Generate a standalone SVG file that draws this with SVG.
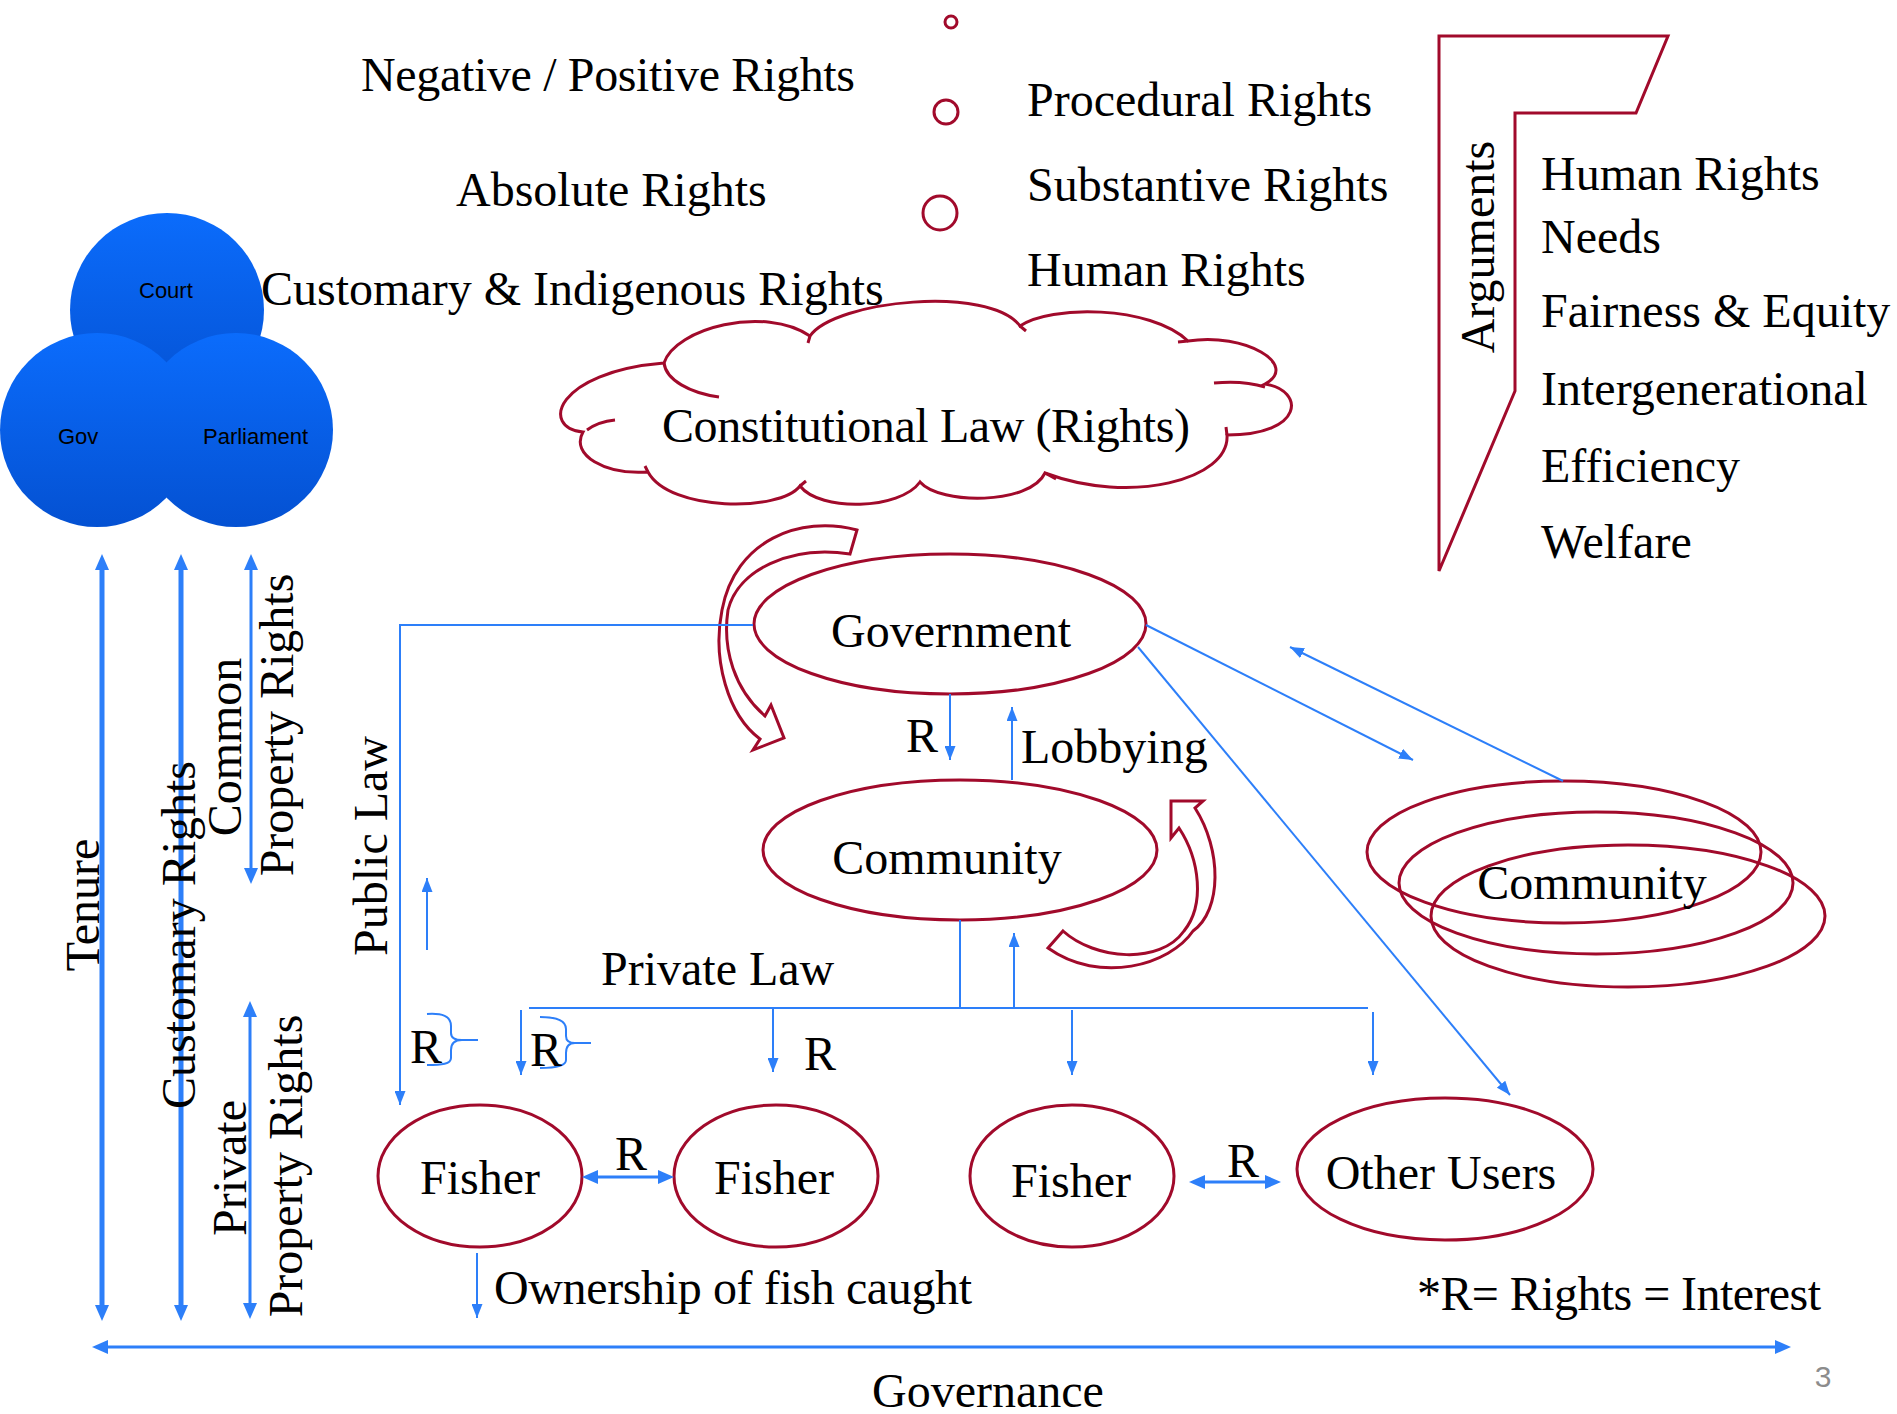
<svg xmlns="http://www.w3.org/2000/svg" width="1897" height="1414" viewBox="0 0 1897 1414">
<style>
.t{font-family:"Liberation Serif","Times New Roman",serif;font-size:48px;fill:#000}
.s{font-family:"Liberation Sans",Arial,sans-serif;font-size:22px;fill:#000}
.red{fill:none;stroke:#a10a2b;stroke-width:3}
.bl{fill:none;stroke:#2d7ff9;stroke-width:2}
.bm{fill:none;stroke:#2d7ff9;stroke-width:3}
.bt{fill:none;stroke:#2d7ff9;stroke-width:5}
</style>
<defs>
<linearGradient id="vg" x1="0" y1="0" x2="0" y2="1">
<stop offset="0" stop-color="#0b6cfc"/>
<stop offset="1" stop-color="#0451d2"/>
</linearGradient>
<marker id="a" viewBox="0 0 14 11" markerWidth="14" markerHeight="11" refX="14" refY="5.5" markerUnits="userSpaceOnUse" orient="auto">
<path d="M0,0 L14,5.5 L0,11 Z" fill="#2d7ff9"/>
</marker>
<marker id="b" viewBox="0 0 16 14" markerWidth="16" markerHeight="14" refX="3" refY="7" markerUnits="userSpaceOnUse" orient="auto">
<path d="M0,0 L16,7 L0,14 Z" fill="#2d7ff9"/>
</marker>
<marker id="bs" viewBox="0 0 16 14" markerWidth="16" markerHeight="14" refX="3" refY="7" markerUnits="userSpaceOnUse" orient="auto-start-reverse">
<path d="M0,0 L16,7 L0,14 Z" fill="#2d7ff9"/>
</marker>
</defs>
<rect width="1897" height="1414" fill="#fff"/>

<g id="venn">
<circle cx="167" cy="310" r="97" fill="url(#vg)"/>
<circle cx="97" cy="430" r="97" fill="url(#vg)"/>
<circle cx="236" cy="430" r="97" fill="url(#vg)"/>
<text class="s" x="139" y="298">Court</text>
<text class="s" x="58" y="444">Gov</text>
<text class="s" x="203" y="444">Parliament</text>
</g>

<g id="rights-list">
<text class="t" x="361" y="91" textLength="494" lengthAdjust="spacing">Negative / Positive Rights</text>
<text class="t" x="456" y="206">Absolute Rights</text>
<text class="t" x="261" y="305">Customary &amp; Indigenous Rights</text>
<circle class="red" cx="951" cy="22" r="6" stroke-width="2.5"/>
<circle class="red" cx="946" cy="112" r="12" stroke-width="2.5"/>
<circle class="red" cx="940" cy="213" r="17" stroke-width="2.5"/>
<text class="t" x="1027" y="116">Procedural Rights</text>
<text class="t" x="1027" y="201">Substantive Rights</text>
<text class="t" x="1027" y="286">Human Rights</text>
</g>

<g id="arguments">
<path class="red" d="M1439,571 L1439,36 L1668,36 L1636,113 L1515,113 L1515,391 Z"/>
<text class="t" transform="translate(1494,247) rotate(-90)" text-anchor="middle">Arguments</text>
<text class="t" x="1541" y="190">Human Rights</text>
<text class="t" x="1541" y="253">Needs</text>
<text class="t" x="1541" y="327">Fairness &amp; Equity</text>
<text class="t" x="1541" y="405">Intergenerational</text>
<text class="t" x="1541" y="482">Efficiency</text>
<text class="t" x="1541" y="558">Welfare</text>
</g>

<g id="constitutional-law">
<path class="red" style="fill:#fff" d="M583,432 C540,428 555,372 664,363 C675,328 765,305 810,336 C835,300 990,285 1020,326 C1050,305 1150,305 1188,341 C1245,332 1300,365 1265,384 C1305,390 1305,435 1227,435 C1230,480 1130,505 1045,473 C1030,505 940,505 920,482 C900,510 820,512 800,486 C780,512 670,512 648,472 C605,475 570,455 583,432 Z"/>
<path class="red" d="M664,363 C666,380 690,393 719,397 M1214,383 C1235,381 1252,383 1265,387 M587,430 C595,424 605,421 615,420 M1227,435 L1226,427 M810,336 L808,343 M1020,326 L1026,331 M1188,341 L1178,342 M1045,473 L1056,479 M800,486 L806,481 M648,472 L645,466"/>
<text class="t" x="662" y="442" textLength="528" lengthAdjust="spacing">Constitutional Law (Rights)</text>
</g>

<g id="government">
<ellipse class="red" cx="950" cy="624" rx="196" ry="70"/>
<text class="t" x="951" y="647" text-anchor="middle">Government</text>
</g>

<g id="community">
<ellipse class="red" cx="960" cy="850" rx="197" ry="70"/>
<text class="t" x="947" y="874" text-anchor="middle">Community</text>
</g>

<g id="community-right">
<ellipse class="red" cx="1564" cy="852" rx="197" ry="71"/>
<ellipse class="red" cx="1596" cy="883" rx="197" ry="71"/>
<ellipse class="red" cx="1628" cy="916" rx="197" ry="71"/>
<text class="t" x="1592" y="899" text-anchor="middle">Community</text>
</g>

<g id="fisher1">
<ellipse class="red" cx="480" cy="1176" rx="102" ry="71"/>
<text class="t" x="480" y="1194" text-anchor="middle">Fisher</text>
</g>
<g id="fisher2">
<ellipse class="red" cx="776" cy="1176" rx="102" ry="71"/>
<text class="t" x="774" y="1194" text-anchor="middle">Fisher</text>
</g>
<g id="fisher3">
<ellipse class="red" cx="1072" cy="1176" rx="102" ry="71"/>
<text class="t" x="1071" y="1197" text-anchor="middle">Fisher</text>
</g>
<g id="other-users">
<ellipse class="red" cx="1445" cy="1169" rx="148" ry="71"/>
<text class="t" x="1441" y="1189" text-anchor="middle">Other Users</text>
</g>

<g id="curved-arrows">
<path class="red" style="fill:#fff" d="M857,530 C800,515 735,540 722,610 C712,660 728,715 760,739 L753,750 L784,738 L771,705 L765,716 C735,690 722,650 728,610 C738,570 790,545 850,554 Z"/>
<path class="red" style="fill:#fff" d="M1171,801 L1203,801 L1195,808 C1222,850 1222,910 1193,931 C1170,965 1100,985 1048,948 L1063,931 C1095,960 1160,965 1184,931 C1205,905 1200,860 1179,828 L1171,838 Z"/>
</g>

<g id="connectors">
<polyline class="bl" points="753,625 400,625 400,1105" marker-end="url(#a)"/>
<line class="bl" x1="427" y1="950" x2="427" y2="878" marker-end="url(#a)"/>
<line class="bl" x1="521" y1="1010" x2="521" y2="1075" marker-end="url(#a)"/>
<line class="bl" x1="529" y1="1008" x2="1368" y2="1008"/>
<line class="bl" x1="773" y1="1008" x2="773" y2="1072" marker-end="url(#a)"/>
<line class="bl" x1="1072" y1="1010" x2="1072" y2="1075" marker-end="url(#a)"/>
<line class="bl" x1="1373" y1="1012" x2="1373" y2="1075" marker-end="url(#a)"/>
<line class="bl" x1="960" y1="920" x2="960" y2="1008"/>
<line class="bl" x1="1014" y1="1008" x2="1014" y2="933" marker-end="url(#a)"/>
<line class="bl" x1="950" y1="694" x2="950" y2="760" marker-end="url(#a)"/>
<line class="bl" x1="1012" y1="780" x2="1012" y2="707" marker-end="url(#a)"/>
<line class="bl" x1="1146" y1="625" x2="1413" y2="760" marker-end="url(#a)"/>
<line class="bl" x1="1563" y1="781" x2="1290" y2="647" marker-end="url(#a)"/>
<line class="bl" x1="1138" y1="647" x2="1510" y2="1095" marker-end="url(#a)"/>
<line class="bl" x1="477" y1="1253" x2="477" y2="1318" marker-end="url(#a)"/>
<path class="bl" stroke-width="1.6" d="M427,1014 C442,1013 451,1016 451,1026 L451,1033 C451,1038 455,1040 462,1040 L478,1040 M462,1040 C455,1040 451,1043 451,1050 L451,1058 C451,1064 442,1065 427,1065"/>
<path class="bl" stroke-width="1.6" d="M540,1017 C556,1017 566,1020 566,1029 L566,1036 C566,1041 569,1043 575,1043 L591,1043 M575,1043 C569,1043 566,1046 566,1053 L566,1060 C566,1066 556,1068 540,1068"/>
<line class="bm" x1="105" y1="1347" x2="1778" y2="1347" marker-start="url(#bs)" marker-end="url(#b)"/>
<line class="bm" x1="595" y1="1177" x2="661" y2="1177" marker-start="url(#bs)" marker-end="url(#b)"/>
<line class="bm" x1="1202" y1="1182" x2="1268" y2="1182" marker-start="url(#bs)" marker-end="url(#b)"/>
<line class="bm" x1="251" y1="567" x2="251" y2="871" marker-start="url(#bs)" marker-end="url(#b)"/>
<line class="bm" x1="250" y1="1014" x2="250" y2="1306" marker-start="url(#bs)" marker-end="url(#b)"/>
<line class="bt" x1="102" y1="567" x2="102" y2="1308" marker-start="url(#bs)" marker-end="url(#b)"/>
<line class="bt" x1="181" y1="567" x2="181" y2="1308" marker-start="url(#bs)" marker-end="url(#b)"/>
</g>

<g id="labels">
<text class="t" transform="translate(99,905) rotate(-90)" text-anchor="middle">Tenure</text>
<text class="t" transform="translate(195,935) rotate(-90)" text-anchor="middle">Customary Rights</text>
<text class="t" transform="translate(241,747) rotate(-90)" text-anchor="middle">Common</text>
<text class="t" transform="translate(293,725) rotate(-90)" text-anchor="middle">Property Rights</text>
<text class="t" transform="translate(246,1168) rotate(-90)" text-anchor="middle">Private</text>
<text class="t" transform="translate(302,1166) rotate(-90)" text-anchor="middle">Property Rights</text>
<text class="t" transform="translate(387,846) rotate(-90)" text-anchor="middle">Public Law</text>
<text class="t" x="906" y="752">R</text>
<text class="t" x="1021" y="763">Lobbying</text>
<text class="t" x="601" y="985">Private Law</text>
<text class="t" x="410" y="1063">R</text>
<text class="t" x="530" y="1066">R</text>
<text class="t" x="804" y="1070">R</text>
<text class="t" x="615" y="1170">R</text>
<text class="t" x="1227" y="1177">R</text>
<text class="t" x="494" y="1304" textLength="478" lengthAdjust="spacing">Ownership of fish caught</text>
<text class="t" x="1417" y="1310" textLength="404" lengthAdjust="spacing">*R= Rights = Interest</text>
<text class="t" x="872" y="1407">Governance</text>
<text x="1823" y="1387" text-anchor="middle" style="font-family:'Liberation Sans',Arial,sans-serif;font-size:30px;fill:#8c8c8c">3</text>
</g>
</svg>
